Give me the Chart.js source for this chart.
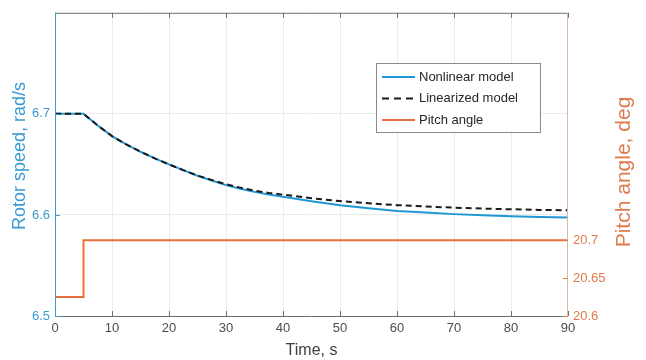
<!DOCTYPE html>
<html>
<head>
<meta charset="utf-8">
<script src="https://cdn.jsdelivr.net/npm/chart.js@4/dist/chart.umd.min.js"></script>
<style>
  body { margin: 0; background: #fff; }
  #wrap { width: 646px; height: 360px; }
</style>
</head>
<body>
<div id="wrap"><canvas id="chart" width="646" height="360"></canvas></div>
<script>
// values
const speedTime = [0, 5, 6, 7.5, 10, 12.5, 15, 17.5, 20, 22.5, 25, 27.5, 30, 32.5, 35, 37.5, 40, 45, 50, 55, 60, 65, 70, 75, 80, 85, 90];
const nonlinearSpeed = [6.7, 6.7, 6.6955, 6.6885, 6.678, 6.6698, 6.6625, 6.656, 6.650, 6.6443, 6.6388, 6.634, 6.6295, 6.626, 6.6228, 6.6203, 6.618, 6.6135, 6.6095, 6.6065, 6.604, 6.6023, 6.6008, 6.5997, 6.5988, 6.598, 6.5974];
const linearizedSpeed = [6.7, 6.7, 6.6955, 6.6885, 6.678, 6.6698, 6.6625, 6.656, 6.650, 6.6443, 6.639, 6.6345, 6.6303, 6.627, 6.624, 6.6218, 6.620, 6.6165, 6.6137, 6.6115, 6.6097, 6.6083, 6.6072, 6.6063, 6.6056, 6.605, 6.6046];
const pitchTime = [0, 5, 5, 90];
const pitchAngle = [20.625, 20.625, 20.7, 20.7];
const timeTicks = [0, 10, 20, 30, 40, 50, 60, 70, 80, 90];
const speedTicks = [6.5, 6.6, 6.7];
const pitchTicks = [20.6, 20.65, 20.7];

const blue = '#1f97d4';
const blueText = '#3a9bd0';
const orange = '#e8703a';
const orangeText = '#df7a4c';
const font = "'Liberation Sans', Arial, sans-serif";

const toPoints = (xs, ys) => xs.map((x, i) => ({ x: x, y: ys[i] }));

// MATLAB style box, axis colours, inward ticks, y titles and legend
const boxPlugin = {
    id: 'box',
    afterDatasetsDraw(chart) {
        const { ctx, chartArea: a, scales } = chart;
        ctx.save();
        ctx.lineWidth = 1;
        ctx.strokeStyle = '#6e6e6e';
        ctx.beginPath();
        ctx.moveTo(a.left, a.top + 0.5); ctx.lineTo(a.right, a.top + 0.5);
        ctx.moveTo(a.left, a.bottom + 0.5); ctx.lineTo(a.right, a.bottom + 0.5);
        timeTicks.forEach(t => {
            const px = Math.round(scales.x.getPixelForValue(t)) + 0.5;
            ctx.moveTo(px, a.bottom); ctx.lineTo(px, a.bottom - 5);
            ctx.moveTo(px, a.top); ctx.lineTo(px, a.top + 5);
        });
        ctx.stroke();
        ctx.strokeStyle = blueText;
        ctx.beginPath();
        ctx.moveTo(a.left + 0.5, a.top); ctx.lineTo(a.left + 0.5, a.bottom + 1);
        speedTicks.forEach(v => {
            const py = Math.round(scales.y.getPixelForValue(v)) + 0.5;
            ctx.moveTo(a.left, py); ctx.lineTo(a.left + 5, py);
        });
        ctx.stroke();
        ctx.strokeStyle = '#d9b9a3';
        ctx.beginPath();
        ctx.moveTo(a.right - 0.5, a.top); ctx.lineTo(a.right - 0.5, a.bottom + 1);
        ctx.stroke();
        ctx.strokeStyle = orangeText;
        ctx.beginPath();
        pitchTicks.forEach(v => {
            const py = Math.round(scales.y2.getPixelForValue(v)) + 0.5;
            ctx.moveTo(a.right, py); ctx.lineTo(a.right - 5, py);
        });
        ctx.stroke();

        // y axis titles, both read bottom to top
        ctx.textAlign = 'center';
        ctx.textBaseline = 'middle';
        ctx.save();
        ctx.translate(20, 156);
        ctx.rotate(-Math.PI / 2);
        ctx.fillStyle = blueText;
        ctx.font = '18px ' + font;
        ctx.fillText('Rotor speed, rad/s', 0, 0);
        ctx.restore();
        ctx.save();
        ctx.translate(624, 172);
        ctx.rotate(-Math.PI / 2);
        ctx.fillStyle = orangeText;
        ctx.font = '21px ' + font;
        ctx.fillText('Pitch angle, deg', 0, 0);
        ctx.restore();

        // legend box
        const lx = 376, ly = 63, lw = 164, lh = 69;
        ctx.fillStyle = '#fff';
        ctx.fillRect(lx, ly, lw, lh);
        ctx.strokeStyle = '#8a8a8a';
        ctx.strokeRect(lx + 0.5, ly + 0.5, lw, lh);
        ctx.textAlign = 'left';
        const rows = [0, 1, 2].map(i => chart.data.datasets.find(d => d.legendOrder === i));
        rows.forEach((d, i) => {
            const y = ly + 14 + i * 21.5;
            ctx.strokeStyle = d.borderColor;
            ctx.lineWidth = 2;
            ctx.setLineDash(d.borderDash ? [7, 5] : []);
            ctx.beginPath();
            ctx.moveTo(lx + 6, y); ctx.lineTo(lx + 39, y);
            ctx.stroke();
            ctx.setLineDash([]);
            ctx.fillStyle = '#262626';
            ctx.font = '13px ' + font;
            ctx.fillText(d.label, lx + 43, y);
        });
        ctx.restore();
    }
};

new Chart(document.getElementById('chart'), {
    type: 'line',
    data: {
        datasets: [{
            label: 'Pitch angle',
            legendOrder: 2,
            data: toPoints(pitchTime, pitchAngle),
            yAxisID: 'y2',
            borderColor: orange,
            borderWidth: 2,
            pointRadius: 0,
            order: 3
        }, {
            label: 'Nonlinear model',
            legendOrder: 0,
            data: toPoints(speedTime, nonlinearSpeed),
            yAxisID: 'y',
            borderColor: blue,
            borderWidth: 2,
            pointRadius: 0,
            order: 2
        }, {
            label: 'Linearized model',
            legendOrder: 1,
            data: toPoints(speedTime, linearizedSpeed),
            yAxisID: 'y',
            borderColor: '#1a1a1a',
            borderWidth: 2,
            borderDash: [6, 4],
            pointRadius: 0,
            order: 1
        }]
    },
    options: {
        responsive: false,
        animation: false,
        layout: { padding: { top: 9, left: 0, right: 0, bottom: 0 } },
        plugins: { legend: { display: false }, tooltip: { enabled: false } },
        scales: {
            x: {
                type: 'linear',
                min: 0,
                max: 90,
                afterBuildTicks: s => { s.ticks = timeTicks.map(v => ({ value: v })); },
                afterFit: s => { s.height = 44; },
                border: { display: false },
                grid: {
                    drawTicks: false,
                    color: ctx => (ctx.tick && (ctx.tick.value === 0 || ctx.tick.value === 90)) ? 'rgba(0,0,0,0)' : '#ebebeb'
                },
                ticks: { padding: 5, color: '#4d4d4d', font: { family: font, size: 13 }, maxRotation: 0 },
                title: { display: true, text: 'Time, s', color: '#404040', font: { family: font, size: 16 }, padding: { top: 0, bottom: 0 } }
            },
            y: {
                position: 'left',
                min: 6.5,
                max: 6.8,
                afterBuildTicks: s => { s.ticks = speedTicks.map(v => ({ value: v })); },
                afterFit: s => { s.width = 55; },
                border: { display: false },
                grid: {
                    drawTicks: false,
                    color: ctx => (ctx.tick && ctx.tick.value === 6.5) ? 'rgba(0,0,0,0)' : '#ebebeb'
                },
                ticks: { padding: 5, color: blueText, font: { family: font, size: 13 }, callback: v => v.toFixed(1) }
            },
            y2: {
                position: 'right',
                min: 20.6,
                max: 21.0,
                afterBuildTicks: s => { s.ticks = pitchTicks.map(v => ({ value: v })); },
                afterFit: s => { s.width = 78; },
                border: { display: false },
                grid: { display: false, drawTicks: false },
                ticks: { padding: 5, color: orangeText, font: { family: font, size: 13 }, callback: v => String(Math.round(v * 100) / 100) }
            }
        }
    },
    plugins: [boxPlugin]
});
</script>
</body>
</html>
